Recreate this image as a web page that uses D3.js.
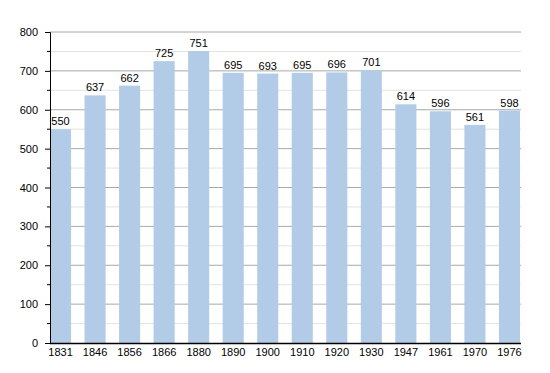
<!DOCTYPE html>
<html>
<head>
<meta charset="utf-8">
<script src="https://cdn.jsdelivr.net/npm/d3@7"></script>
<style>
  body { margin: 0; background: #fff; }
  text { font-family: "Liberation Sans", Arial, sans-serif; font-size: 11px; fill: #000; }
</style>
</head>
<body>
<svg width="550" height="373"></svg>
<script>
const years = ['1831', '1846', '1856', '1866', '1880', '1890', '1900', '1910', '1920', '1930', '1947', '1961', '1970', '1976']
const population = [550, 637, 662, 725, 751, 695, 693, 695, 696, 701, 614, 596, 561, 598]
const yTicks = [0, 100, 200, 300, 400, 500, 600, 700, 800]
const yMinor = [50, 150, 250, 350, 450, 550, 650, 750]

let plotLeft = 50
let plotRight = 521
let plotTop = 32
let plotBottom = 343
let svg = d3.select('svg')

let x = d3.scaleBand()
  .domain(years)
  .range([plotLeft, plotRight - 1])
  .paddingInner(0.39)
  .paddingOuter(0)

let y = d3.scaleLinear()
  .domain([0, 800])
  .range([plotBottom, plotTop])

// minor grid
svg.append('g')
  .selectAll('line')
  .data(yMinor)
  .enter()
  .append('line')
  .attr('x1', plotLeft)
  .attr('x2', plotRight)
  .attr('y1', d => y(d))
  .attr('y2', d => y(d))
  .attr('stroke', '#e3e3e3')

// major grid
svg.append('g')
  .selectAll('line')
  .data(yTicks.slice(1))
  .enter()
  .append('line')
  .attr('x1', plotLeft)
  .attr('x2', plotRight)
  .attr('y1', d => y(d))
  .attr('y2', d => y(d))
  .attr('stroke', '#a8a8a8')

// bars
svg.append('g')
  .selectAll('rect')
  .data(population)
  .enter()
  .append('rect')
  .attr('x', (d, i) => x(years[i]))
  .attr('width', x.bandwidth())
  .attr('y', d => y(d))
  .attr('height', d => plotBottom - y(d))
  .attr('fill', '#b2cbe6')

// value labels
svg.append('g')
  .selectAll('text')
  .data(population)
  .enter()
  .append('text')
  .attr('x', (d, i) => x(years[i]) + x.bandwidth() / 2)
  .attr('y', d => y(d) - 4)
  .attr('text-anchor', 'middle')
  .text(d => d)

// y axis
let yAxis = d3.axisLeft(y).tickValues(yTicks).tickSize(5).tickPadding(7)
let yg = svg.append('g')
  .attr('transform', `translate(${plotLeft}, 0)`)
  .call(yAxis)
yg.select('.domain').attr('stroke', '#000')
yg.selectAll('text').attr('font-size', 11).attr('font-family', null)

svg.append('g')
  .selectAll('line')
  .data(yMinor)
  .enter()
  .append('line')
  .attr('x1', plotLeft - 3)
  .attr('x2', plotLeft)
  .attr('y1', d => y(d))
  .attr('y2', d => y(d))
  .attr('stroke', '#000')

// x axis
let xAxis = d3.axisBottom(x).tickSize(0).tickPadding(5)
let xg = svg.append('g')
  .attr('transform', `translate(0, ${plotBottom})`)
  .call(xAxis)
xg.select('.domain').attr('d', `M${plotLeft},0.5H${plotRight}`).attr('stroke', '#000').attr('stroke-width', 1.5)
xg.selectAll('text').attr('font-size', 11).attr('font-family', null)
</script>
</body>
</html>
